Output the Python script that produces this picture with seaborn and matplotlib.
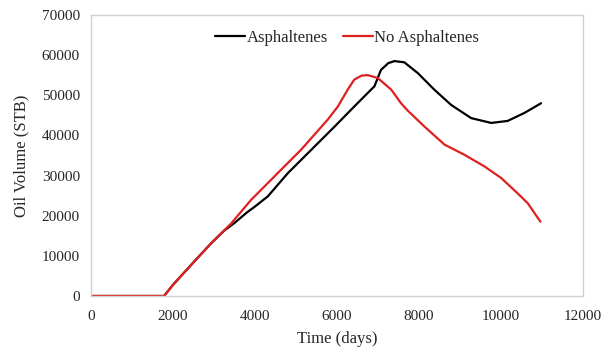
import matplotlib
matplotlib.use("Agg")
import matplotlib.pyplot as plt
import seaborn as sns
import pandas as pd

asph_days = [0, 1780, 2000, 2500, 2930, 3250, 3500, 3800, 4000, 4310, 4800, 5370, 5940,
             6420, 6830, 6910, 7070, 7250, 7400, 7640, 7970, 8370, 8780, 9270, 9760, 10160, 10570, 10975]
asph_vol = [0, 0, 2800, 8400, 13140, 16300, 18200, 20800, 22300, 24800, 30600, 36400, 42200,
            47200, 51400, 52200, 56300, 58000, 58500, 58200, 55500, 51400, 47600, 44300, 43100, 43600, 45600, 48000]

noasph_days = [0, 1780, 2000, 2500, 2930, 3420, 3900, 4630, 5120, 5770, 6020, 6260, 6420, 6600,
               6750, 6990, 7320, 7560, 7720, 8130, 8620, 9100, 9590, 10000, 10400, 10650, 10960]
noasph_vol = [0, 0, 2800, 8400, 13140, 18100, 23900, 31400, 36400, 43900, 47200, 51400, 53900, 54900,
              55000, 54300, 51400, 48000, 46200, 42200, 37700, 35200, 32300, 29400, 25600, 23100, 18500]

series_names = ["Asphaltenes", "No Asphaltenes"]
colors = ["#000000", "#e02020"]

df = pd.concat([
    pd.DataFrame({"Time": asph_days, "Vol": asph_vol, "Series": series_names[0]}),
    pd.DataFrame({"Time": noasph_days, "Vol": noasph_vol, "Series": series_names[1]}),
])

sns.set_theme(style="white")
plt.rcParams['font.family'] = ['Liberation Serif', 'DejaVu Serif']

fig = plt.figure(figsize=(6.03, 3.47), dpi=100)
ax = fig.add_axes([0.151, 0.147, 0.816, 0.81])
sns.lineplot(data=df, x="Time", y="Vol", hue="Series", palette=colors, ax=ax,
             linewidth=1.6, sort=False, estimator=None)

ax.set_xlim(0, 12000)
ax.set_ylim(0, 70000)
ax.set_xticks(range(0, 12001, 2000))
ax.set_yticks(range(0, 70001, 10000))
ax.tick_params(axis='x', direction='in', length=4, color='#cccccc', labelsize=11, pad=10)
ax.tick_params(axis='y', length=0, labelsize=11, pad=8)
for s in ax.spines.values():
    s.set_color('#d0d0d0')
    s.set_linewidth(1)
ax.set_xlabel("Time (days)", fontsize=12, labelpad=6)
ax.set_ylabel("Oil Volume (STB)", fontsize=12, labelpad=9)

ax.legend(loc='upper center', bbox_to_anchor=(0.52, 1.0), ncol=2, frameon=False,
          fontsize=12, handlelength=1.8, handletextpad=0.1, columnspacing=0.9)

fig.savefig("out.png", dpi=100)
